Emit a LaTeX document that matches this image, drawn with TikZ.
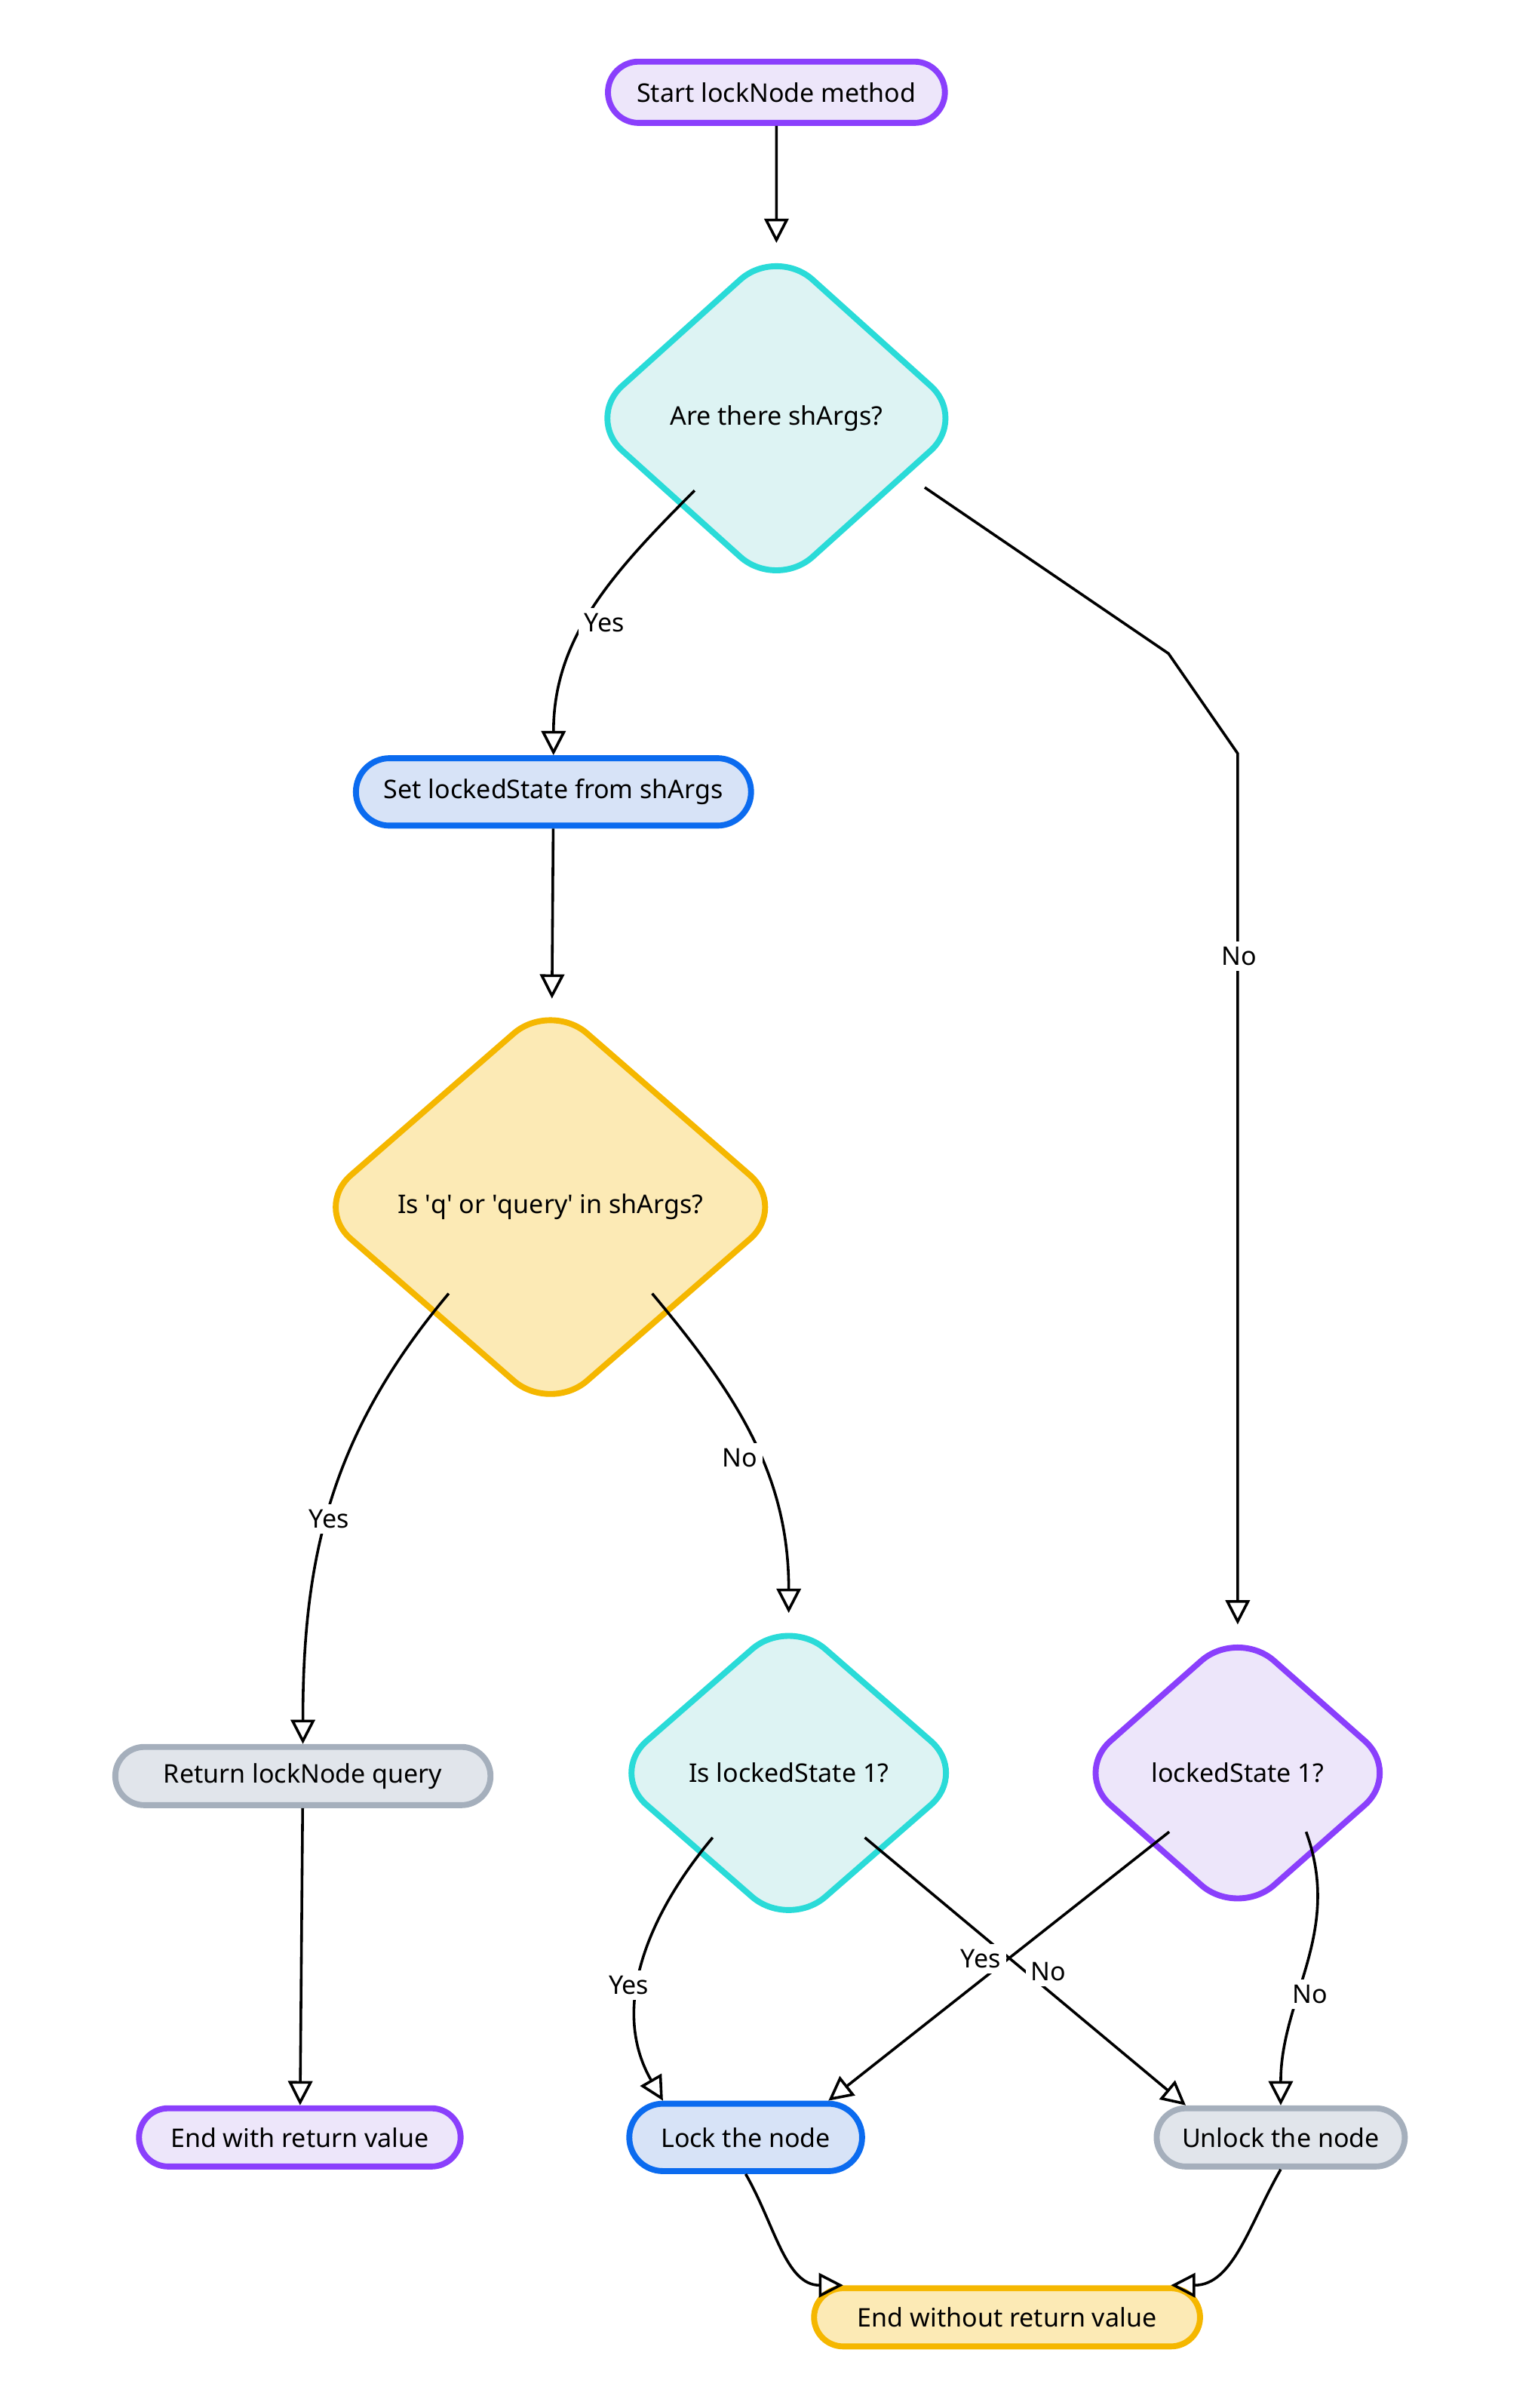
\documentclass[tikz,border=0pt]{standalone}
\usepackage{fontspec}
\setmainfont{Noto Sans}
\usetikzlibrary{shapes.geometric,shapes.misc,arrows.meta}
\definecolor{cpur}{HTML}{8A3FFC}\definecolor{fpur}{HTML}{EDE6FA}
\definecolor{cteal}{HTML}{2ADBD8}\definecolor{fteal}{HTML}{DDF3F3}
\definecolor{cblue}{HTML}{0B6BEF}\definecolor{fblue}{HTML}{D7E3F7}
\definecolor{corg}{HTML}{F5B700}\definecolor{forg}{HTML}{FCEAB5}
\definecolor{cgray}{HTML}{A5AFBC}\definecolor{fgray}{HTML}{E1E5EB}
\begin{document}
\begin{tikzpicture}[x=0.02cm,y=-0.02cm,
  every node/.style={font=\fontsize{9.5}{11}\selectfont},
  pill/.style={rounded rectangle,line width=2.2pt,inner sep=0pt},
  dia/.style={diamond,line width=2.2pt,rounded corners=18pt,inner sep=0pt},
  e/.style={line width=1pt,-{Triangle[open,length=9pt,width=9pt]}},
  lab/.style={fill=white,inner sep=2pt}]
\useasboundingbox (0,0) rectangle (1000,1566);
\node[pill,draw=cpur,fill=fpur,minimum width=220*0.567pt,minimum height=40*0.567pt] (start) at (505,60) {Start lockNode method};
\node[dia,draw=cteal,fill=fteal,minimum width=250*0.567pt,minimum height=225*0.567pt] (d1) at (505,272) {Are there shArgs?};
\node[pill,draw=cblue,fill=fblue,minimum width=258*0.567pt,minimum height=44*0.567pt] (set) at (360,515) {Set lockedState from shArgs};
\node[dia,draw=corg,fill=forg,minimum width=310*0.567pt,minimum height=270*0.567pt] (d2) at (358,785) {Is \textquotesingle q\textquotesingle{} or \textquotesingle query\textquotesingle{} in shArgs?};
\node[pill,draw=cgray,fill=fgray,minimum width=245*0.567pt,minimum height=38*0.567pt] (ret) at (197,1155) {Return lockNode query};
\node[pill,draw=cpur,fill=fpur,minimum width=210*0.567pt,minimum height=38*0.567pt] (end1) at (195,1390) {End with return value};
\node[dia,draw=cteal,fill=fteal,minimum width=235*0.567pt,minimum height=205*0.567pt] (d3) at (513,1153) {Is lockedState 1?};
\node[dia,draw=cpur,fill=fpur,minimum width=215*0.567pt,minimum height=190*0.567pt] (d4) at (805,1153) {lockedState 1?};
\node[pill,draw=cblue,fill=fblue,minimum width=152*0.567pt,minimum height=44*0.567pt] (lock) at (485,1390) {Lock the node};
\node[pill,draw=cgray,fill=fgray,minimum width=162*0.567pt,minimum height=38*0.567pt] (unlock) at (833,1390) {Unlock the node};
\node[pill,draw=corg,fill=forg,minimum width=252*0.567pt,minimum height=38*0.567pt] (end2) at (655,1507) {End without return value};
\coordinate (a1) at (760,425); \coordinate (a2) at (805,490);
\draw[e] (start) -- (d1);
\draw[e] (d1.south west) ++(10,-10) to[out=-135,in=90] (set.north);
\node[lab] at (393,405) {Yes};
\draw[e] (d1.east) ++(-30,45) -- (a1) -- (a2) -- (d4.north);
\node[lab] at (806,622) {No};
\draw[e] (set) -- (d2);
\draw[e] (d2.south west) ++(12,-12) to[out=-130,in=90] (ret.north);
\node[lab] at (214,988) {Yes};
\draw[e] (d2.south east) ++(-12,-12) to[out=-50,in=90] (d3.north);
\node[lab] at (481,948) {No};
\draw[e] (ret) -- (end1);
\draw[e] (d3.south west) ++(10,-10) to[out=-130,in=120] (lock.north west);
\node[lab] at (409,1291) {Yes};
\draw[e] (d3.south east) ++(-10,-10) -- (unlock.north west);
\draw[e] (d4.south west) ++(10,-10) -- (lock.north east);
\node[lab] at (682,1282) {No};
\node[lab] at (638,1274) {Yes};
\draw[e] (d4.south east) ++(-10,-10) to[out=-70,in=90] (unlock.north);
\node[lab] at (852,1297) {No};
\draw[e] (lock.south) to[out=-60,in=180] (end2.north west);
\draw[e] (unlock.south) to[out=-120,in=0] (end2.north east);
\end{tikzpicture}
\end{document}
